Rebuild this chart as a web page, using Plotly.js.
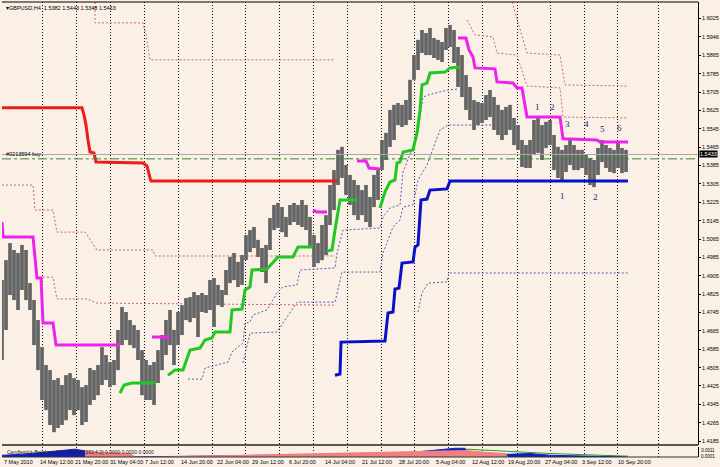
<!DOCTYPE html>
<html><head><meta charset="utf-8">
<script src="https://cdn.plot.ly/plotly-3.0.1.min.js"></script>
<style>html,body{margin:0;padding:0;background:#FAF0E6;}#c{width:720px;height:467px;}</style>
</head><body><div id="c"></div>
<script>
// ---------- price bars (H4 GBPUSD), sampled every 4th bar index ----------
const firstBar = 2, barStep = 4;
const barHigh = [1.4886,1.4973,1.5047,1.5017,1.5004,1.5039,1.5017,1.4873,1.4799,1.4712,
 1.4594,1.4516,1.4494,1.4451,1.4459,1.4429,1.4472,1.4481,1.4459,1.4451,
 1.4420,1.4429,1.4503,1.4494,1.4516,1.4594,1.4560,1.4529,1.4538,1.4669,
 1.4769,1.4747,1.4712,1.4690,1.4669,1.4581,1.4538,1.4516,1.4529,1.4581,
 1.4647,1.4712,1.4756,1.4669,1.4747,1.4777,1.4808,1.4812,1.4834,1.4821,
 1.4830,1.4821,1.4886,1.4895,1.4865,1.4843,1.4930,1.4987,1.5004,1.4965,
 1.4995,1.5082,1.5104,1.5117,1.5061,1.5026,1.5039,1.5156,1.5213,1.5222,
 1.5204,1.5161,1.5213,1.5222,1.5213,1.5235,1.5213,1.5161,1.5082,1.5047,
 1.5126,1.5169,1.5300,1.5365,1.5453,1.5466,1.5387,1.5344,1.5322,1.5300,
 1.5278,1.5300,1.5248,1.5344,1.5365,1.5496,1.5527,1.5627,1.5649,1.5657,
 1.5649,1.5670,1.5758,1.5866,1.5932,1.5975,1.5962,1.5984,1.5940,1.5932,
 1.5923,1.5984,1.5997,1.5975,1.5901,1.5866,1.5779,1.5727,1.5670,1.5662,
 1.5657,1.5692,1.5714,1.5683,1.5649,1.5627,1.5640,1.5649,1.5592,1.5561,
 1.5496,1.5474,1.5496,1.5583,1.5592,1.5561,1.5575,1.5583,1.5518,1.5466,
 1.5453,1.5474,1.5496,1.5474,1.5453,1.5453,1.5431,1.5418,1.5409,1.5461,
 1.5496,1.5474,1.5461,1.5453,1.5483,1.5461,1.5453];
const barLow = [1.4538,1.4669,1.4821,1.4799,1.4756,1.4843,1.4799,1.4756,1.4603,1.4494,
 1.4364,1.4320,1.4255,1.4224,1.4242,1.4255,1.4276,1.4320,1.4298,1.4320,
 1.4255,1.4268,1.4342,1.4364,1.4385,1.4429,1.4451,1.4420,1.4429,1.4494,
 1.4603,1.4625,1.4603,1.4590,1.4538,1.4385,1.4364,1.4364,1.4342,1.4438,
 1.4494,1.4560,1.4603,1.4516,1.4603,1.4647,1.4712,1.4703,1.4721,1.4638,
 1.4747,1.4743,1.4756,1.4682,1.4777,1.4769,1.4821,1.4873,1.4886,1.4856,
 1.4865,1.4973,1.5008,1.5026,1.4987,1.4921,1.4873,1.5017,1.5104,1.5113,
 1.5095,1.5074,1.5126,1.5139,1.5126,1.5117,1.5104,1.5030,1.4943,1.4960,
 1.4973,1.4995,1.5126,1.5191,1.5300,1.5331,1.5257,1.5213,1.5169,1.5148,
 1.5169,1.5139,1.5117,1.5204,1.5235,1.5365,1.5409,1.5466,1.5496,1.5561,
 1.5553,1.5561,1.5583,1.5758,1.5801,1.5875,1.5866,1.5866,1.5853,1.5845,
 1.5836,1.5888,1.5901,1.5832,1.5727,1.5683,1.5627,1.5583,1.5540,1.5561,
 1.5570,1.5583,1.5596,1.5540,1.5518,1.5496,1.5518,1.5540,1.5474,1.5453,
 1.5379,1.5374,1.5374,1.5431,1.5440,1.5409,1.5461,1.5474,1.5365,1.5331,
 1.5322,1.5357,1.5387,1.5365,1.5365,1.5374,1.5344,1.5300,1.5291,1.5344,
 1.5400,1.5374,1.5357,1.5352,1.5374,1.5352,1.5357];

// ---------- indicator lines: bar index / price ----------
const redBar   = [2,82,84,86,88,90,94,96,143,147,150,151,337];
const redPrice = [1.5636,1.5636,1.5605,1.5561,1.5496,1.5444,1.5440,1.5400,1.5396,1.5383,1.5331,1.5318,1.5318];

const redDotUpBar   = [95,95,143,146,150,335];
const redDotUpPrice = [1.6097,1.6006,1.6006,1.5954,1.5845,1.5845];
const redDotLoABar   = [2,33,35,53,57,85,97,153,155,335];
const redDotLoAPrice = [1.5300,1.5300,1.5191,1.5191,1.5095,1.5095,1.5017,1.5017,1.4991,1.4991];
const redDotLoBBar   = [43,53,57,87,97,335];
const redDotLoBPrice = [1.4899,1.4899,1.4804,1.4804,1.4786,1.4777];
const redDotM1Bar   = [467,475,493,497,517,527,560,563,628];
const redDotM1Price = [1.6019,1.5954,1.5945,1.5875,1.5866,1.5731,1.5723,1.5596,1.5592];
const redDotM2Bar   = [512,517,527,560,565,628];
const redDotM2Price = [1.6097,1.6019,1.5875,1.5866,1.5736,1.5731];

const magBar   = [2,3,33,35,37,41,43,53,56,120,null,152,170,null,313,317,327,null,357,366,369,380,null,
                  458,466,469,473,475,495,497,513,517,522,527,560,563,597,600,628];
const magPrice = [1.5139,1.5074,1.5074,1.4973,1.4895,1.4895,1.4699,1.4699,1.4603,1.4603,null,1.4638,1.4638,null,
                  1.5191,1.5183,1.5183,null,1.5405,1.5405,1.5374,1.5370,null,
                  1.5940,1.5940,1.5888,1.5858,1.5810,1.5806,1.5749,1.5744,1.5723,1.5723,1.5596,1.5596,1.5501,1.5496,1.5487,1.5487];

const greenBar   = [120,124,132,155,null,168,175,183,190,200,205,212,215,230,232,242,245,250,252,267,272,278,293,298,313,null,
                    327,332,335,340,357,null,380,385,390,395,397,400,403,413,417,420,422,427,430,445,450,460];
const greenPrice = [1.4394,1.4429,1.4438,1.4438,null,1.4472,1.4494,1.4494,1.4581,1.4590,1.4625,1.4634,1.4660,1.4660,1.4756,1.4760,
                    1.4843,1.4856,1.4930,1.4934,1.4960,1.4987,1.4987,1.5030,1.5030,null,
                    1.5013,1.5017,1.5104,1.5235,1.5235,null,1.5200,1.5270,1.5313,1.5322,1.5396,1.5400,1.5444,1.5453,1.5527,1.5627,
                    1.5736,1.5744,1.5788,1.5792,1.5810,1.5814];

const blueDotABar   = [188,202,205,228,232,243,245,250,253,267,277,283,297,300,335,337,343,380,383,390,400,403,413,418,423,428,448,458];
const blueDotAPrice = [1.4455,1.4455,1.4503,1.4529,1.4573,1.4612,1.4699,1.4703,1.4734,1.4756,1.4830,1.4856,1.4865,1.4930,
                       1.4939,1.5004,1.5104,1.5113,1.5161,1.5200,1.5213,1.5357,1.5466,1.5527,1.5683,1.5692,1.5714,1.5718];
const blueDotBBar   = [243,250,277,283,297,335,342,380,383,393,400,403,413,418,422,427,440,448,513];
const blueDotBPrice = [1.4525,1.4655,1.4660,1.4699,1.4790,1.4790,1.4921,1.4921,1.5004,1.5117,1.5148,1.5204,1.5213,
                       1.5322,1.5352,1.5387,1.5540,1.5561,1.5561];

const blueBar   = [335,340,341,385,388,393,395,399,402,413,415,418,421,427,430,447,450,628];
const bluePrice = [1.4472,1.4477,1.4616,1.4621,1.4743,1.4747,1.4847,1.4851,1.4960,1.4965,1.5030,1.5039,1.5235,1.5239,
                   1.5278,1.5283,1.5318,1.5318];
const blueDotCBar   = [418,422,428,447,449,628];
const blueDotCPrice = [1.4747,1.4830,1.4873,1.4878,1.4917,1.4917];

// ---------- wave labels ----------
const waveText  = ['1','2','3','4','5','6','1','2'];
const waveBar   = [537,552,567,586,602,619,562,595];
const wavePrice = [1.5640,1.5640,1.5566,1.5566,1.5544,1.5548,1.5252,1.5248];

// ---------- sub-window histogram ----------
const subBlueBar = [2,20,40,60,75,85,90,130,250,270,290,330,360,380,400,420,440,455,465,468,505,530,550,600,628];
const subBlueVal = [0.0002,0.0003,0.0005,0.0007,0.0009,0.0007,0,0,0.0001,0.0002,0.0001,0.0002,0.0001,0.0002,0.0004,0.0006,0.0008,0.0010,0.0010,0,0.0003,0.0004,0.0002,0.0001,0];
const subRedBar = [85,90,110,130,135,null,466,470,490,505,508];
const subRedVal = [0.0007,0.0006,0.0005,0.0004,0,null,0.0008,0.0007,0.0005,0.0004,0];
const subGreenBar = [466,500,550,600,628];
const subGreenVal = [0.0009,0.0007,0.0004,0.0002,0.0001];

// ---------- axes ----------
const gridBars = [2,42,76,110,144,178,212,245,279,313,347,381,414,448,482,517,550,584,617,658];
const dateBars = [2,38,73,108,143,179,215,250,287,323,360,397,434,470,506,543,580,616];
const dateText = ['7 May 2010','14 May 12:00','21 May 20:00','31 May 04:00','7 Jun 12:00','14 Jun 20:00','22 Jun 04:00',
  '29 Jun 12:00','6 Jul 20:00','14 Jul 04:00','21 Jul 12:00','28 Jul 20:00','5 Aug 04:00','12 Aug 12:00',
  '19 Aug 20:00','27 Aug 04:00','3 Sep 12:00','10 Sep 20:00'];
const priceTicks = [1.6025,1.5945,1.5865,1.5785,1.5705,1.5625,1.5545,1.5465,1.5385,1.5305,1.5225,1.5145,1.5065,
  1.4985,1.4905,1.4825,1.4745,1.4665,1.4585,1.4505,1.4425,1.4345,1.4265,1.4185];
const priceTickText = ['1.6025','1.5946','1.5865','1.5785','1.5705','1.5625','1.5545','1.5465','1.5385','1.5305','1.5225',
  '1.5145','1.5065','1.4985','1.4905','1.4825','1.4745','1.4665','1.4585','1.4505','1.4425','1.4345','1.4265','1.4185'];
const bidPrice = 1.5433, orderPrice = 1.5414;
const titleText = 'GBPUSD,H4  1.5382 1.5443 1.5348 1.5433';

// ---------- build ----------
const segX = [], segY = [];
barHigh.forEach((h, i) => { const x = firstBar + i * barStep; segX.push(x, x, null); segY.push(barLow[i], h, null); });

function ln(x, y, color, width, dash, axis) {
  return {type:'scatter', mode:'lines', x:x, y:y, yaxis: axis || 'y', hoverinfo:'skip',
          line:{color:color, width:width, dash:dash || 'solid'}, connectgaps:false, showlegend:false};
}
const FONT = '"Liberation Sans",Arial,sans-serif';
const DOTRED = '#c66a6a', DOTBLUE = '#5a5ab8', DOT = '2px,2px';
const traces = [
  ln(redDotUpBar, redDotUpPrice, DOTRED, 1, DOT),
  ln(redDotLoABar, redDotLoAPrice, DOTRED, 1, DOT),
  ln(redDotLoBBar, redDotLoBPrice, DOTRED, 1, DOT),
  ln(redDotM1Bar, redDotM1Price, DOTRED, 1, DOT),
  ln(redDotM2Bar, redDotM2Price, DOTRED, 1, DOT),
  ln(blueDotABar, blueDotAPrice, DOTBLUE, 1, DOT),
  ln(blueDotBBar, blueDotBPrice, DOTBLUE, 1, DOT),
  ln(blueDotCBar, blueDotCPrice, DOTBLUE, 1, DOT),
  ln(segX, segY, '#7a7a7a', 4),
  ln(segX, segY, '#4e4e4e', 1),
  ln(redBar, redPrice, '#ee1c1c', 3),
  ln(magBar, magPrice, '#ee22ee', 3),
  ln(greenBar, greenPrice, '#22c822', 3),
  ln(blueBar, bluePrice, '#0a10c8', 3),
  {type:'scatter', mode:'lines', x:subBlueBar, y:subBlueVal, yaxis:'y2', fill:'tozeroy', fillcolor:'#1020c0',
   line:{color:'#1020c0', width:1}, hoverinfo:'skip', showlegend:false},
  {type:'scatter', mode:'lines', x:subRedBar, y:subRedVal, yaxis:'y2', fill:'tozeroy', fillcolor:'#f08080',
   line:{color:'#f08080', width:1}, hoverinfo:'skip', showlegend:false, connectgaps:false},
  ln(subGreenBar, subGreenVal, '#2a9a2a', 1, 'solid', 'y2')
];

const ann = dateText.map((t, i) => ({x: dateBars[i], y: 0, xref:'x', yref:'paper', text:t, showarrow:false,
  xanchor:'left', yanchor:'top', yshift:0, font:{family:FONT, size:5.5, color:'#000'}}));
waveText.forEach((t, i) => ann.push({x: waveBar[i], y: wavePrice[i], xref:'x', yref:'y', text:t, showarrow:false,
  font:{family:'"Liberation Serif","DejaVu Serif",serif', size:9, color:'#22228a'}}));
ann.push({x:1, y:bidPrice, xref:'paper', yref:'y', text:'1.5433', showarrow:false, xanchor:'left', xshift:1,
  bgcolor:'#000', borderpad:0, font:{family:FONT, size:5.5, color:'#fff'}});
ann.push({x:0, y:1, xref:'paper', yref:'paper', text:'▾' + titleText, showarrow:false, xanchor:'left', yanchor:'top',
  xshift:2, yshift:-1, font:{family:FONT, size:5.5, color:'#000'}});
ann.push({x:4, y:orderPrice, xref:'x', yref:'y', text:'#0213594 buy', showarrow:false, xanchor:'left', yanchor:'bottom',
  font:{family:FONT, size:5.5, color:'#000'}});
ann.push({x:0.004, y:0.012, xref:'paper', yref:'paper', text:'Candlestick-Breakout Sum HFlag(1393,4,2) 0.0000 0.0000 0.0000',
  showarrow:false, xanchor:'left', yanchor:'middle', font:{family:FONT, size:5, color:'#222'}});
ann.push({x:1, y:0.024, xref:'paper', yref:'paper', text:'0.0011<br>0.0001', showarrow:false, xanchor:'left', yanchor:'top',
  xshift:1, font:{family:FONT, size:4.5, color:'#000'}});

const layout = {
  width:720, height:467, margin:{l:2, r:22, t:2, b:10, pad:0},
  paper_bgcolor:'#FAF0E6', plot_bgcolor:'#FAF0E6', showlegend:false, hovermode:false,
  xaxis:{range:[2,698], tickvals:gridBars, showticklabels:false, ticks:'', showgrid:true, gridcolor:'#111',
         griddash:'1px,2px', gridwidth:1, zeroline:false, showline:false, fixedrange:true},
  yaxis:{domain:[0.0264,1], range:[1.4168,1.6097], side:'right', tickvals:priceTicks, ticktext:priceTickText,
         ticks:'outside', ticklen:2, tickcolor:'#000', showgrid:false, zeroline:false, showline:true,
         linecolor:'#000', linewidth:1, tickfont:{family:FONT, size:5.5, color:'#000'}, fixedrange:true},
  yaxis2:{domain:[0,0.023], range:[0,0.0012], side:'right', showticklabels:false, ticks:'', showgrid:false,
          zeroline:false, showline:true, linecolor:'#000', linewidth:1, fixedrange:true},
  shapes:[
    {type:'line', xref:'paper', yref:'y', x0:0, x1:1, y0:bidPrice, y1:bidPrice, line:{color:'#a8a8a8', width:1}},
    {type:'line', xref:'paper', yref:'y', x0:0, x1:1, y0:orderPrice, y1:orderPrice, line:{color:'#2e8b2e', width:1, dash:'dashdot'}},
    {type:'line', xref:'paper', yref:'paper', x0:0, x1:1, y0:0.0264, y1:0.0264, line:{color:'#555', width:2}},
    {type:'line', xref:'paper', yref:'paper', x0:0, x1:1, y0:0, y1:0, line:{color:'#333', width:1}},
    {type:'line', xref:'paper', yref:'paper', x0:0, x1:1, y0:1, y1:1, line:{color:'#000', width:1}}
  ],
  annotations:ann
};
Plotly.newPlot('c', traces, layout, {staticPlot:true, displayModeBar:false});
</script></body></html>
